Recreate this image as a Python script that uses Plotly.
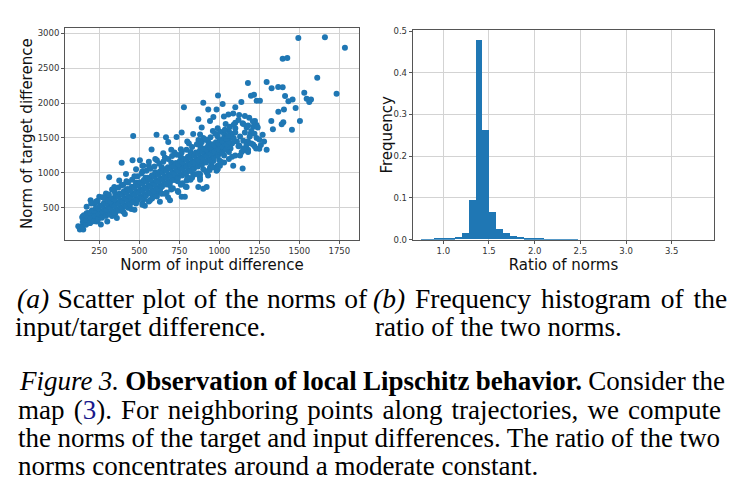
import plotly.graph_objects as go

# ---------------- Data: scatter (norm of input diff, norm of target diff) ----------------
# Outliers / sparse points
outlier_x = [1494, 1660, 1785, 1396, 1425, 1612, 1733, 1296, 1179, 1368, 1396, 1327, 1531, 1411,
             1432, 1458, 1546, 1573, 1562, 1477, 1404, 1369, 1504, 1400, 1390, 1454, 1335, 1325,
             1296, 1250, 1146, 1217, 1233, 1254, 1198, 1138, 992, 1021, 900, 779, 931, 983, 1100,
             462, 390, 312, 196]
outlier_y = [2937, 2946, 2796, 2636, 2650, 2364, 2134, 2303, 2289, 2232, 2228, 2214, 2148, 2101,
             2026, 2054, 2063, 2054, 2016, 1932, 1909, 1876, 1744, 1725, 1697, 1617, 1627, 1744,
             1331, 1345, 1063, 2120, 2035, 2035, 2106, 2016, 2110, 1988, 2007, 1941, 1909, 1909, 1941,
             1528, 1143, 937, 608]

mid_x = [667, 733, 765, 837, 890, 869, 942, 963, 1029, 1057, 1087, 1124, 1160, 1187, 1223, 1233,
         1212, 1171, 1146, 1196, 1233, 1271, 1179, 1212, 1160, 1125, 1083, 1067, 1015, 963, 942,
         983, 921, 879, 869, 900, 921, 796, 765, 785, 744, 702, 671, 692, 629, 608, 535, 567,
         1087, 1004, 837, 796,
         608, 681, 577, 504, 458, 525, 417, 375, 344, 292, 250, 219, 171,
         119, 129, 150, 160, 192, 233, 254, 171, 146]
mid_y = [1509, 1514, 1580, 1556, 1650, 1768, 1744, 1800, 1810, 1838, 1852, 1829, 1815, 1791, 1744,
         1688, 1660, 1650, 1711, 1561, 1500, 1547, 1453, 1406, 1326, 1392, 1500, 1359, 1312, 1171,
         1077, 1030, 1021, 937, 796, 772, 796, 796, 655, 655, 725, 772, 716, 608, 585, 702, 528,
         608, 1101, 1101, 984, 890,
         1547, 1444, 1336, 1181, 1181, 1101, 984, 890, 796, 702, 655, 561, 514,
         232, 185, 185, 303, 279, 303, 373, 420, 373]

fringe_x = [300, 350, 420, 480, 540, 600, 640, 700, 760, 820, 880, 930, 990, 1030, 1060, 1100,
            1150, 1180, 1210, 1100, 1040, 990, 960, 900, 870, 810, 760, 720, 660, 610, 560, 520,
            470, 420, 390, 330, 280, 240,
            330, 400, 450, 520, 580, 640, 700, 760, 820, 880, 940, 990, 1030, 1060, 1100, 1140,
            1180, 1220, 1000, 950, 900, 850, 800, 740, 690, 630, 580, 530, 480, 430, 380, 350,
            1010, 1020, 1040, 1050, 1070, 1080, 1090, 1110, 1120, 1130, 1150, 1160, 1170, 1190,
            1200, 1220, 1240, 1250, 1030, 1060, 1015, 1045, 1075, 1100,
            200, 230, 270, 310, 345, 370, 400, 430, 455, 490, 515, 545, 570, 595, 625, 650, 680,
            705, 735, 765, 795, 830, 860, 890, 915, 945, 975, 1005, 1035, 1065, 1090, 1120, 520,
            600, 700, 800, 880, 650, 560, 480,
            260, 300, 360, 410, 470, 520, 560, 610, 660, 710, 770, 830, 870, 920, 960, 1010, 1080,
            1130, 1180, 1230, 1260, 1280, 1150, 1200, 990, 930, 880, 790, 740, 680]
fringe_y = [640, 700, 760, 860, 930, 1010, 1080, 1150, 1230, 1300, 1390, 1450, 1520, 1560, 1600,
            1640, 1700, 1680, 1740, 1720, 1700, 1640, 1600, 1500, 1470, 1420, 1340, 1290, 1220,
            1180, 1100, 1020, 950, 880, 820, 760, 640, 600,
            380, 440, 480, 560, 630, 700, 760, 830, 900, 980, 1040, 1100, 1150, 1200, 1250, 1300,
            1330, 1380, 1180, 1120, 1050, 980, 940, 880, 820, 760, 700, 620, 560, 500, 460, 420,
            1300, 1380, 1420, 1480, 1350, 1420, 1500, 1450, 1380, 1520, 1460, 1580, 1400, 1520,
            1600, 1560, 1650, 1480, 1250, 1300, 1450, 1520, 1560, 1580,
            560, 590, 650, 690, 740, 790, 830, 860, 900, 950, 990, 1030, 1060, 1090, 1130, 1160, 1200,
            1240, 1260, 1290, 1330, 1370, 1410, 1440, 1480, 1510, 1560, 1590, 1620, 1660, 1690, 1760, 1100,
            1200, 1330, 1450, 1550, 1280, 1160, 1050,
            260, 300, 350, 410, 470, 540, 590, 660, 700, 780, 850, 930, 990, 1010, 1080, 1160, 1230,
            1250, 1300, 1350, 1400, 1450, 1350, 1420, 1050, 960, 900, 800, 740, 650]

# Dense core of the cloud, read column by column (x, then six y values across the band)
core_x = [150, 175, 200, 225, 250, 275, 300, 325, 350, 375, 400, 425, 450, 475, 500, 525, 550,
          575, 600, 625, 650, 675, 700, 725, 750, 775, 800, 825, 850, 875, 900, 925, 950, 975,
          1000, 1025, 1050]
core_y = [
    [230, 262, 294, 326, 358, 390], [255, 289, 323, 357, 391, 425], [280, 316, 352, 388, 424, 460],
    [305, 343, 381, 419, 457, 495], [330, 370, 410, 450, 490, 530], [355, 397, 439, 481, 523, 565],
    [380, 424, 468, 512, 556, 600], [405, 451, 497, 543, 589, 635], [430, 478, 526, 574, 622, 670],
    [460, 508, 557, 605, 654, 702], [490, 539, 588, 637, 686, 735], [520, 569, 619, 668, 718, 767],
    [550, 600, 650, 700, 750, 800], [580, 630, 681, 731, 782, 832], [610, 661, 712, 763, 814, 865],
    [640, 691, 742, 794, 845, 897], [670, 722, 774, 826, 878, 930], [702, 754, 805, 857, 908, 960],
    [735, 786, 837, 888, 939, 990], [767, 818, 868, 919, 969, 1020], [800, 850, 900, 950, 1000, 1050],
    [832, 882, 931, 981, 1030, 1080], [865, 914, 963, 1012, 1061, 1110], [897, 946, 994, 1043, 1091, 1140],
    [930, 978, 1026, 1074, 1122, 1170], [962, 1010, 1057, 1105, 1152, 1200], [995, 1042, 1089, 1136, 1183, 1230],
    [1027, 1074, 1120, 1167, 1213, 1260], [1060, 1106, 1152, 1198, 1244, 1290], [1090, 1136, 1182, 1228, 1274, 1320],
    [1120, 1166, 1212, 1258, 1304, 1350], [1150, 1196, 1242, 1288, 1334, 1380], [1180, 1226, 1272, 1318, 1364, 1410],
    [1215, 1260, 1305, 1350, 1395, 1440], [1250, 1294, 1338, 1382, 1426, 1470], [1290, 1332, 1374, 1416, 1458, 1500],
    [1330, 1370, 1410, 1450, 1490, 1530],
]
core_row_dx = [-8, 6, -3, 9, -6, 4]

x_ticks = [250, 500, 750, 1000, 1250, 1500, 1750]
y_ticks = [500, 1000, 1500, 2000, 2500, 3000]

# ---------------- Data: histogram of ratio of norms ----------------
bin_start = 0.75
bin_width = 0.075
freq = [0.0003, 0.0006, 0.0015, 0.002, 0.003, 0.005, 0.016, 0.094, 0.479, 0.263, 0.067, 0.026,
        0.015, 0.008, 0.005, 0.003, 0.0025, 0.002, 0.001, 0.0007, 0.0005, 0.0003, 0.0002, 0.0,
        0.0, 0.0, 0.0, 0.0, 0.0, 0.0, 0.0, 0.0, 0.0, 0.0, 0.0, 0.0, 0.0, 0.0, 0.0, 0.0, 0.0]
hx_ticks = [1.0, 1.5, 2.0, 2.5, 3.0, 3.5]
hy_ticks = [0.0, 0.1, 0.2, 0.3, 0.4, 0.5]

# ---------------- Build ----------------
sx = outlier_x + mid_x + fringe_x
sy = outlier_y + mid_y + fringe_y
for cx, ys in zip(core_x, core_y):
    for dx, yv in zip(core_row_dx, ys):
        sx.append(cx + dx)
        sy.append(yv)

centers = [bin_start + bin_width * (i + 0.5) for i in range(len(freq))]

BLUE = "#1f77b4"
fig = go.Figure()
fig.add_trace(go.Scatter(x=sx, y=sy, mode="markers",
                         marker=dict(color=BLUE, size=6, line=dict(width=0)),
                         xaxis="x", yaxis="y", showlegend=False, hoverinfo="skip"))
fig.add_trace(go.Bar(x=centers, y=freq, width=bin_width, marker=dict(color=BLUE, line=dict(width=0)),
                     xaxis="x2", yaxis="y2", showlegend=False, hoverinfo="skip"))

W, H = 735, 503
def px(v): return v / W
def py(v): return 1 - v / H

axis_common = dict(showline=True, mirror=True, linecolor="#555555", linewidth=1,
                   ticks="outside", ticklen=3, tickcolor="#555555",
                   showgrid=True, gridcolor="#d3d3d3", gridwidth=1, zeroline=False,
                   tickfont=dict(family="DejaVu Sans", size=8.5, color="#333333"))
title_font = dict(family="DejaVu Sans", size=15, color="#111111")

fig.update_layout(
    width=W, height=H, margin=dict(l=0, r=0, t=0, b=0),
    paper_bgcolor="white", plot_bgcolor="white", bargap=0,
    xaxis=dict(domain=[px(65), px(359)], range=[36, 1873], tickvals=x_ticks, anchor="y",
               title=dict(text="Norm of input difference", font=title_font, standoff=3), **axis_common),
    yaxis=dict(domain=[py(240), py(24)], range=[40, 3085], tickvals=y_ticks, anchor="x",
               title=dict(text="Norm of target difference", font=title_font, standoff=1), **axis_common),
    xaxis2=dict(domain=[px(412.7), px(714.3)], range=[0.665, 3.966], tickvals=hx_ticks,
                tickformat=".1f", anchor="y2",
                title=dict(text="Ratio of norms", font=title_font, standoff=3), **axis_common),
    yaxis2=dict(domain=[py(240), py(26.7)], range=[0, 0.502], tickvals=hy_ticks,
                tickformat=".1f", anchor="x2", **axis_common),
)

# y-axis title of the histogram, placed close to its tick labels as in the reference
fig.add_annotation(x=px(387), y=py(133), xref="paper", yref="paper", text="Frequency",
                   textangle=-90, showarrow=False, xanchor="center", yanchor="middle",
                   font=title_font)

lines = [
    (15, 318, 27.5, 1.6, "<i>(a)</i> Scatter plot of the norms of"),
    (371, 318, 27.5, 3.0, "<i>(b)</i> Frequency histogram of the"),
    (13, 346, 27.5, 0, "input/target difference."),
    (373, 346, 27, 0, "ratio of the two norms."),
    (17, 401.5, 27, -0.5, "<i>Figure 3.</i> <b>Observation of local Lipschitz behavior.</b> Consider the"),
    (16, 430.5, 27, 2.4, "map (<span style='color:#1a1a8c'>3</span>). For neighboring points along trajectories, we compute"),
    (16, 459, 27, -0.3, "the norms of the target and input differences. The ratio of the two"),
    (16, 487.5, 27, 0, "norms concentrates around a moderate constant."),
]
for x0, y0, fs, ws, t in lines:
    txt = "<span style='word-spacing:%spx'>%s</span>" % (ws, t) if ws else t
    fig.add_annotation(x=px(x0), y=py(y0), xref="paper", yref="paper", text=txt, showarrow=False,
                       xanchor="left", yanchor="bottom", align="left",
                       font=dict(family="Liberation Serif", size=fs, color="black"))

fig.write_html("out.html")
